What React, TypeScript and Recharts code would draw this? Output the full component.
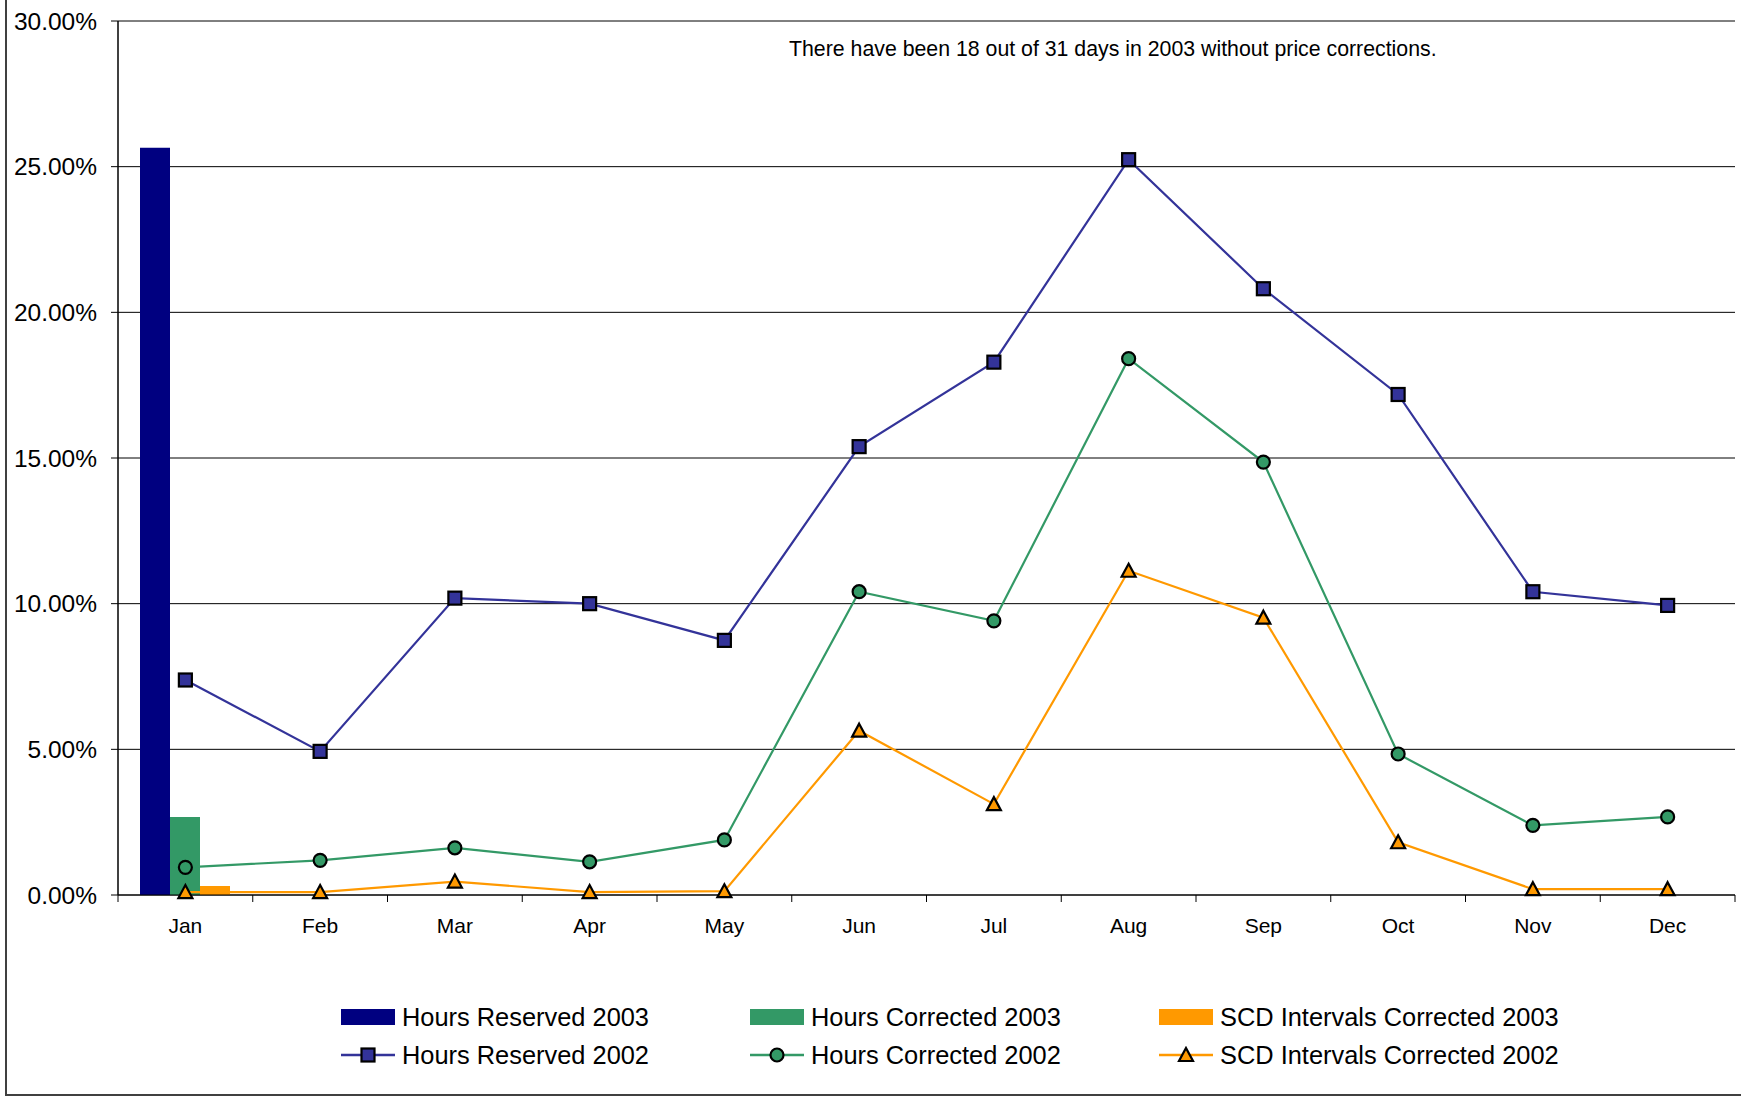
import React from 'react';
import { ComposedChart, Bar, Line, XAxis, YAxis, CartesianGrid, Legend } from 'recharts';

const months = ['Jan', 'Feb', 'Mar', 'Apr', 'May', 'Jun', 'Jul', 'Aug', 'Sep', 'Oct', 'Nov', 'Dec'];
const hoursReserved2003 = [25.65, null, null, null, null, null, null, null, null, null, null, null];
const hoursCorrected2003 = [2.68, null, null, null, null, null, null, null, null, null, null, null];
const scdCorrected2003 = [0.31, null, null, null, null, null, null, null, null, null, null, null];
const hoursReserved2002 = [7.38, 4.93, 10.19, 10.0, 8.74, 15.39, 18.29, 25.24, 20.81, 17.18, 10.41, 9.94];
const hoursCorrected2002 = [0.95, 1.19, 1.62, 1.14, 1.89, 10.41, 9.41, 18.41, 14.86, 4.84, 2.39, 2.68];
const scdCorrected2002 = [0.1, 0.1, 0.46, 0.1, 0.13, 5.64, 3.12, 11.13, 9.52, 1.81, 0.2, 0.2];
const yTicks = [0, 5, 10, 15, 20, 25, 30];
const note = 'There have been 18 out of 31 days in 2003 without price corrections.';

const FONT = '"Liberation Sans", Arial, sans-serif';
const W = 1741;
const H = 1097;
const PLOT_LEFT = 118;
const PLOT_RIGHT_MARGIN = 6;
const HALF_BAND = (W - PLOT_LEFT - PLOT_RIGHT_MARGIN) / months.length / 2;

const data = months.map((m, i) => ({
  month: m,
  hr03: hoursReserved2003[i],
  hc03: hoursCorrected2003[i],
  scd03: scdCorrected2003[i],
  hr02: hoursReserved2002[i],
  hc02: hoursCorrected2002[i],
  scd02: scdCorrected2002[i],
}));

const barSeries = [
  { key: 'hr03', name: 'Hours Reserved 2003', color: '#000080' },
  { key: 'hc03', name: 'Hours Corrected 2003', color: '#339966' },
  { key: 'scd03', name: 'SCD Intervals Corrected 2003', color: '#FF9900' },
];
const lineSeries = [
  { key: 'hr02', name: 'Hours Reserved 2002', color: '#333399', marker: 'square' },
  { key: 'hc02', name: 'Hours Corrected 2002', color: '#339966', marker: 'circle' },
  { key: 'scd02', name: 'SCD Intervals Corrected 2002', color: '#FF9900', marker: 'triangle' },
];

function Marker({ kind, cx, cy, color }: { kind: string; cx: number; cy: number; color: string }) {
  if (kind === 'square') {
    return <rect x={cx - 6.5} y={cy - 6.5} width={13} height={13} fill={color} stroke="#000" strokeWidth={2.2} />;
  }
  if (kind === 'circle') {
    return <circle cx={cx} cy={cy} r={6.5} fill={color} stroke="#000" strokeWidth={2.2} />;
  }
  return (
    <path
      d={`M${cx},${cy - 7} L${cx + 7},${cy + 6} L${cx - 7},${cy + 6} Z`}
      fill={color}
      stroke="#000"
      strokeWidth={2.2}
      strokeLinejoin="miter"
    />
  );
}

const makeDot = (kind: string, color: string) => (p: any) => {
  const { cx, cy, index } = p;
  if (cx == null || cy == null) return <g key={`${kind}-${index}`} />;
  return (
    <g key={`${kind}-${index}`}>
      <Marker kind={kind} cx={cx} cy={cy} color={color} />
    </g>
  );
};

const XTick = (props: any) => {
  const { x, y, payload, index } = props;
  return (
    <g>
      <line x1={x - HALF_BAND} x2={x - HALF_BAND} y1={y} y2={y + 7} stroke="#000" strokeWidth={1} />
      {index === months.length - 1 && (
        <line x1={x + HALF_BAND} x2={x + HALF_BAND} y1={y} y2={y + 7} stroke="#000" strokeWidth={1} />
      )}
      <text x={x} y={y + 38} textAnchor="middle" fontSize={21} fill="#000" fontFamily={FONT}>
        {payload.value}
      </text>
    </g>
  );
};

const legendItems = [
  ...barSeries.map((s) => ({ name: s.name, color: s.color, kind: 'bar' })),
  ...lineSeries.map((s) => ({ name: s.name, color: s.color, kind: s.marker })),
];

const LegendContent = () => (
  <div
    style={{
      display: 'grid',
      gridTemplateColumns: '409px 409px 409px',
      gridAutoRows: '38px',
      fontFamily: FONT,
      fontSize: 25.4,
      color: '#000',
    }}
  >
    {legendItems.map((it) => (
      <div key={it.name} style={{ display: 'flex', alignItems: 'center', height: 38 }}>
        <svg width={54} height={18} style={{ display: 'block', marginRight: 7, flex: 'none' }}>
          {it.kind === 'bar' ? (
            <rect x={0} y={1} width={54} height={16} fill={it.color} />
          ) : (
            <g>
              <line x1={0} x2={54} y1={9} y2={9} stroke={it.color} strokeWidth={2.5} />
              <Marker kind={it.kind} cx={27} cy={9} color={it.color} />
            </g>
          )}
        </svg>
        <span style={{ whiteSpace: 'nowrap', lineHeight: '38px' }}>{it.name}</span>
      </div>
    ))}
  </div>
);

export default function App() {
  return (
    <div
      style={{
        position: 'absolute',
        left: 0,
        top: 0,
        width: W,
        height: H,
        overflow: 'hidden',
        background: '#fff',
      }}
    >
      <div
        style={{
          position: 'absolute',
          left: 5,
          top: -10,
          width: 1760,
          height: 1106,
          boxSizing: 'border-box',
          borderLeft: '2px solid #404040',
          borderBottom: '2px solid #404040',
        }}
      />
      <div style={{ position: 'absolute', left: 0, top: 0 }}>
        <ComposedChart
          width={W}
          height={H}
          data={data}
          margin={{ top: 21, right: PLOT_RIGHT_MARGIN, left: 0, bottom: 152 }}
          barCategoryGap={22}
          barGap={0}
        >
          <CartesianGrid vertical={false} stroke="#000" strokeWidth={1} />
          <XAxis
            dataKey="month"
            height={50}
            tickSize={0}
            tickMargin={0}
            tickLine={false}
            axisLine={{ stroke: '#000', strokeWidth: 1 }}
            tick={<XTick />}
            interval={0}
          />
          <YAxis
            width={PLOT_LEFT}
            domain={[0, 30]}
            ticks={yTicks}
            interval={0}
            tickSize={7}
            tickMargin={14}
            tickFormatter={(v: number) => `${v.toFixed(2)}%`}
            tick={{ fontSize: 24.5, fill: '#000', fontFamily: FONT }}
            axisLine={{ stroke: '#000', strokeWidth: 1.5 }}
            tickLine={{ stroke: '#000' }}
          />
          <YAxis
            yAxisId="r"
            orientation="right"
            width={0}
            domain={[0, 30]}
            tick={false}
            tickLine={false}
            axisLine={{ stroke: '#808080', strokeWidth: 2 }}
          />
          {barSeries.map((s) => (
            <Bar key={s.key} dataKey={s.key} name={s.name} fill={s.color} isAnimationActive={false} />
          ))}
          {lineSeries.map((s) => (
            <Line
              key={s.key}
              dataKey={s.key}
              name={s.name}
              type="linear"
              stroke={s.color}
              strokeWidth={2.2}
              dot={makeDot(s.marker, s.color)}
              activeDot={false}
              isAnimationActive={false}
            />
          ))}
          <Legend
            layout="horizontal"
            verticalAlign="middle"
            align="center"
            content={<LegendContent />}
            wrapperStyle={{ position: 'absolute', left: 341, top: 998, width: 1230, height: 76 }}
          />
        </ComposedChart>
      </div>
      <div
        style={{
          position: 'absolute',
          left: 789,
          top: 36,
          width: 600,
          textAlign: 'center',
          fontFamily: FONT,
          fontSize: 21.3,
          lineHeight: '26px',
          color: '#000',
          whiteSpace: 'nowrap',
        }}
      >
        {note}
      </div>
    </div>
  );
}
